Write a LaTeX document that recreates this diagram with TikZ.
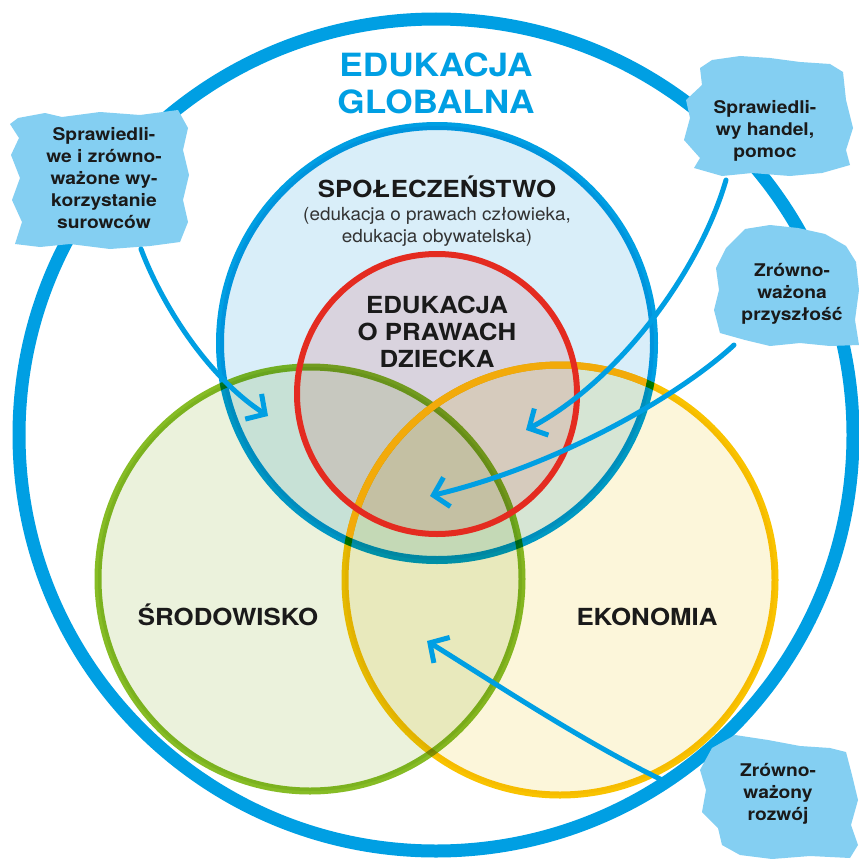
\documentclass[tikz,border=0pt]{standalone}
\usepackage{fontspec}
\setmainfont{TeX Gyre Heros}
\usetikzlibrary{arrows.meta}
\definecolor{gblue}{HTML}{009FE3}
\definecolor{boxblue}{HTML}{84CFF2}
\definecolor{gred}{HTML}{E42B20}
\definecolor{ggreen}{HTML}{86BC25}
\definecolor{gyellow}{HTML}{F9C300}
\definecolor{gorange}{HTML}{F2AA0A}
\definecolor{sfill}{HTML}{D9EEF9}
\definecolor{rfill}{HTML}{FFE3E4}
\definecolor{gfill}{HTML}{EBF2DC}
\definecolor{yfill}{HTML}{FCF6DA}
\definecolor{txt}{HTML}{1A1A1A}
\definecolor{subtxt}{HTML}{333333}
\tikzset{
  bigtitle/.style={text=gblue, font=\fontsize{32}{36}\selectfont\bfseries, align=center, anchor=base},
  lbl/.style={text=txt, font=\fontsize{23.5}{27}\selectfont\bfseries, align=center, anchor=base},
  sublbl/.style={text=subtxt, font=\fontsize{18}{21.5}\selectfont, align=center, anchor=base},
  boxtxt/.style={text=txt, font=\fontsize{17.5}{22}\selectfont\bfseries, align=center, anchor=base},
  brush/.style={fill=boxblue},
  arr/.style={draw=gblue, line width=5, line cap=round, -{Straight Barb[length=14, width=30, line width=5]}},
}
\newcommand{\xs}[1]{\scalebox{1.1}[1]{#1}}
\begin{document}
\begin{tikzpicture}[x=1pt,y=-1pt]
\useasboundingbox (0,0) rectangle (859,859);
\fill[white] (0,0) rectangle (859,859);

% outer circle
\draw[gblue, line width=13] (436,435) ellipse [x radius=417, y radius=416];

% venn circles
\begin{scope}[blend group=multiply]
\filldraw[fill=sfill, draw=gblue, line width=8] (437,343) circle [radius=217];
\fill[rfill] (437,394) circle [radius=140];
\filldraw[fill=gfill, draw=ggreen, line width=7] (310,579) circle [radius=212];
\filldraw[fill=yfill, draw=gyellow, line width=7] (560,580) circle [radius=215];
\end{scope}
\begin{scope}
\clip (437,343) circle [radius=213];
\draw[gorange, line width=7] (560,580) circle [radius=215];
\end{scope}
\draw[gred, line width=6] (437,394) circle [radius=140];

% brush boxes
\fill[brush] (18,118) -- (45,113) -- (62,117) -- (100,112) -- (140,115) -- (178,110) -- (188,128) -- (183,150) -- (189,175) -- (183,200) -- (188,222) -- (180,242) -- (150,246) -- (110,249) -- (70,244) -- (40,247) -- (15,244) -- (22,222) -- (12,200) -- (20,178) -- (11,155) -- (19,138) -- (10,124) -- cycle;
\fill[brush] (712,60) -- (740,56) -- (770,58) -- (800,62) -- (830,64) -- (843,72) -- (846,100) -- (853,128) -- (846,150) -- (850,165) -- (822,173) -- (790,176) -- (752,173) -- (722,176) -- (694,168) -- (700,158) -- (684,140) -- (690,118) -- (686,100) -- (702,85) -- (700,68) -- cycle;
\fill[brush] (745,229) -- (770,225) -- (798,228) -- (825,234) -- (846,246) -- (856,262) -- (859,290) -- (855,320) -- (859,345) -- (830,346) -- (800,343) -- (770,346) -- (745,340) -- (720,333) -- (714,310) -- (719,290) -- (716,268) -- (726,248) -- cycle;
\fill[brush] (712,748) -- (735,735) -- (768,740) -- (800,746) -- (830,748) -- (846,752) -- (852,775) -- (858,800) -- (851,825) -- (858,845) -- (850,858) -- (810,856) -- (772,859) -- (740,855) -- (722,845) -- (718,828) -- (702,812) -- (706,790) -- (700,770) -- cycle;

% box texts (anchor = baseline of last line)
\node[boxtxt] (boxL) at (104,228) {\xs{Sprawiedli-}\\\xs{we i zrówno-}\\\xs{ważone wy-}\\\xs{korzystanie}\\\xs{surowców}};
\node[boxtxt] (boxTR) at (765,157) {\xs{Sprawiedli-}\\\xs{wy handel,}\\\xs{pomoc}};
\node[boxtxt] (boxMR) at (792,320) {\xs{Zrówno-}\\\xs{ważona}\\\xs{przyszłość}};
\node[boxtxt] (boxBR) at (778,820) {\xs{Zrówno-}\\\xs{ważony}\\\xs{rozwój}};

% titles and labels
\node[bigtitle] (title) at (436,113) {\xs{EDUKACJA}\\\xs{GLOBALNA}};
\node[lbl] (spol) at (437,197) {\xs{SPOŁECZEŃSTWO}};
\node[sublbl] (spolsub) at (437,242) {\scalebox{1.05}[1]{(edukacja o prawach człowieka,}\\\scalebox{1.05}[1]{edukacja obywatelska)}};
\node[lbl] (dz) at (437,367) {\xs{EDUKACJA}\\\xs{O PRAWACH}\\\xs{DZIECKA}};
\node[lbl] (srod) at (228,625) {\xs{ŚRODOWISKO}};
\node[lbl] (eko) at (647,625) {\xs{EKONOMIA}};

% arrow ends
\coordinate (a1s) at (141,249);
\coordinate (a1e) at (268,416);
\coordinate (a2s) at (726,180);
\coordinate (a2e) at (526,430);
\coordinate (a3s) at (734,345);
\coordinate (a3e) at (430,496);
\coordinate (a4s) at (662,780);
\coordinate (a4e) at (427,641);

\draw[arr] (a1s) .. controls (160,300) and (205,375) .. (a1e);
\draw[arr] (a2s) .. controls (700,270) and (620,380) .. (a2e);
\draw[arr] (a3s) .. controls (680,395) and (560,465) .. (a3e);
\draw[arr] (a4s) .. controls (580,740) and (490,680) .. (a4e);
\end{tikzpicture}
\end{document}
